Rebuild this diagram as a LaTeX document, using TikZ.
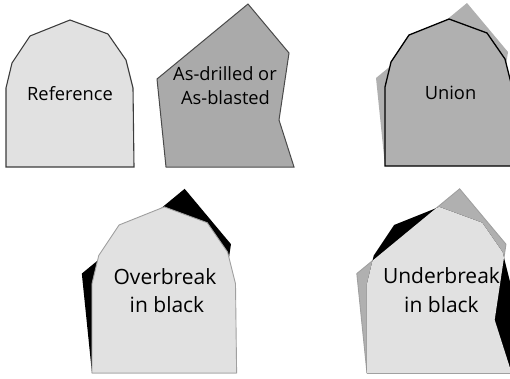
\documentclass[tikz,border=0pt]{standalone}
\usepackage{fontspec}
\setmainfont{Open Sans}
\definecolor{reffill}{HTML}{E1E1E1}
\definecolor{drillfill}{HTML}{AAAAAA}
\definecolor{unionfill}{HTML}{B0B0B0}
\definecolor{refline}{HTML}{3C3C3C}
\definecolor{drillline}{HTML}{4A4A4A}
\definecolor{softline}{HTML}{A0A0A0}
\def\Rpath{(6,167) -- (6,88) -- (12,63) -- (30,36) -- (70,20) -- (108,34) -- (126,60) -- (133,88) -- (134,167) -- cycle}
\def\Dpath{(-3,79) -- (88,4) -- (129,53) -- (119,120) -- (134,167) -- (6,167) -- cycle}
\begin{document}
\begin{tikzpicture}[x=1pt,y=-1pt,
  toplbl/.style={font=\fontsize{18.3}{22}\selectfont, inner sep=0pt, anchor=base},
  botlbl/.style={font=\fontsize{21}{25}\selectfont, inner sep=0pt, anchor=base},
  refshape/.style={fill=reffill, draw=refline, line width=1.1pt, line join=miter},
  drillshape/.style={fill=drillfill, draw=drillline, line width=1pt},
  bigscale/.style={shift={(85.2,184.3)}, scale=1.13}]
\useasboundingbox (0,0) rectangle (510,378);
\clip (0,0) rectangle (510,378);
% Reference
\path[refshape] \Rpath;
\node[toplbl] (tref) at (70,100.7) {Reference};
% As-drilled
\begin{scope}[shift={(160,0)}]
  \path[drillshape] \Dpath;
\end{scope}
\node[toplbl] (tdrill1) at (225,80) {As-drilled or};
\node[toplbl] (tdrill2) at (225.5,104) {As-blasted};
% Union
\begin{scope}[shift={(379,-1)}]
  \fill[unionfill] \Dpath;
  \fill[unionfill] \Rpath;
  \draw[black, line width=1.3pt] \Rpath;
\end{scope}
\node[toplbl] (tunion) at (450.5,99) {Union};
% Overbreak
\begin{scope}[bigscale]
  \fill[black] \Dpath;
  \path[fill=reffill, draw=softline, line width=0.9pt] \Rpath;
\end{scope}
\node[botlbl] (tover1) at (165,284) {Overbreak};
\node[botlbl] (tover2) at (167,312) {in black};
% Underbreak
\begin{scope}[shift={(275,0)}]
\begin{scope}[bigscale]
  \path[fill=unionfill, draw=softline, line width=0.9pt] \Dpath;
  \fill[black] \Rpath;
  \begin{scope}
    \clip \Dpath;
    \fill[reffill] \Rpath;
  \end{scope}
  \draw[softline, line width=0.9pt] (6,167) -- (134,167);
\end{scope}
\end{scope}
\node[botlbl] (tunder1) at (441.5,283) {Underbreak};
\node[botlbl] (tunder2) at (441.5,312) {in black};
\end{tikzpicture}
\end{document}
